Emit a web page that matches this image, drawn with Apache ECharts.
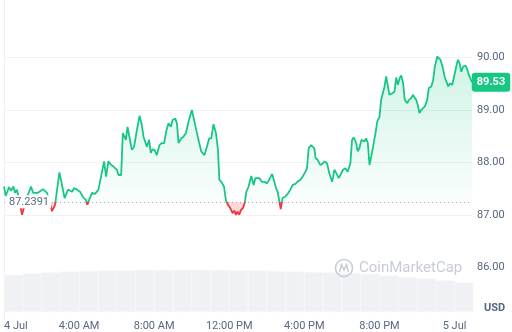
<!DOCTYPE html>
<html><head><meta charset="utf-8">
<script src="https://cdn.jsdelivr.net/npm/echarts@6/dist/echarts.min.js"></script>
<style>html,body{margin:0;padding:0;background:#fff}#c{width:512px;height:332px}</style>
</head><body><div id="c"></div>
<script>
// hours since 4 Jul 00:00
const hours = [
0,0.09,0.27,0.37,0.50,0.59,0.68,0.76,0.96,1.17,1.44,1.55,1.81,2.08,2.29,2.56,2.72,2.95,3.23,3.41,
3.63,3.73,3.89,4.05,4.21,4.37,4.44,4.53,4.69,4.85,5.03,5.17,5.33,5.44,5.56,5.71,5.83,5.92,6.01,6.10,
6.24,6.33,6.42,6.49,6.58,6.68,6.81,6.93,7.08,7.22,7.34,7.43,7.61,7.73,7.82,7.91,8.02,8.14,8.28,8.41,
8.53,8.64,8.76,8.89,8.98,9.12,9.21,9.30,9.44,9.56,9.69,9.83,10.01,10.15,10.28,10.40,10.51,10.68,10.81,10.93,
11.04,11.16,11.29,11.40,11.47,11.57,11.72,11.82,11.93,12.05,12.18,12.27,12.36,12.44,12.53,12.62,12.73,12.82,12.91,13.03,
13.17,13.30,13.39,13.49,13.60,13.74,13.87,14.01,14.13,14.28,14.40,14.49,14.58,14.67,14.74,14.84,14.99,15.13,15.25,15.38,
15.52,15.63,15.79,15.91,16.05,16.14,16.23,16.36,16.46,16.53,16.60,16.71,16.85,16.98,17.08,17.21,17.33,17.48,17.60,17.71,
17.83,17.92,18.06,18.19,18.31,18.45,18.54,18.63,18.76,18.84,18.93,19.04,19.13,19.20,19.29,19.38,19.47,19.56,19.66,19.79,
19.88,20.00,20.09,20.18,20.27,20.36,20.44,20.53,20.68,20.80,20.89,20.98,21.08,21.16,21.26,21.35,21.48,21.56,21.69,21.78,
21.88,21.96,22.04,22.13,22.22,22.31,22.42,22.54,22.63,22.76,22.86,22.95,23.08,23.16,23.25,23.38,23.47,23.57,23.66,23.75,
23.88,23.96,24.09,24.18,24.27,24.36,24.46,24.59,24.68,24.76,24.85,24.93
];
const prices = [
87.54,87.36,87.53,87.46,87.54,87.42,87.48,87.38,87.00,87.28,87.54,87.42,87.42,87.49,87.42,87.07,87.19,87.81,87.32,87.48,
87.44,87.51,87.48,87.44,87.34,87.28,87.19,87.28,87.42,87.40,87.48,87.73,88.02,87.73,88.02,87.95,87.92,87.95,87.86,87.76,
87.76,88.56,88.59,88.43,88.68,88.49,88.24,88.30,88.62,88.89,88.72,88.49,88.30,88.43,88.18,88.25,88.24,88.14,88.33,88.37,
88.37,88.59,88.75,88.68,88.81,88.84,88.75,88.37,88.46,88.49,88.56,88.78,89.00,88.77,88.56,88.37,88.21,88.14,88.30,88.46,
88.46,88.73,88.56,88.24,87.67,87.63,87.54,87.28,87.19,87.13,87.03,87.08,87.00,87.06,87.00,87.09,87.13,87.22,87.44,87.54,
87.74,87.57,87.70,87.67,87.70,87.63,87.63,87.60,87.67,87.78,87.63,87.51,87.44,87.25,87.11,87.32,87.35,87.41,87.48,87.57,
87.59,87.63,87.67,87.73,87.82,87.89,88.27,88.33,88.35,88.27,88.08,88.05,87.95,87.98,88.02,87.98,87.79,87.63,87.86,87.79,
87.70,87.76,87.86,87.89,87.82,87.98,88.43,88.48,88.37,88.21,88.27,88.43,88.46,88.40,88.46,88.37,87.95,88.11,88.30,88.56,
88.78,88.87,89.19,89.32,89.45,89.64,89.48,89.29,89.32,89.35,89.62,89.48,89.61,89.66,89.51,89.19,89.13,89.19,89.23,89.29,
89.29,89.19,89.10,88.94,89.00,89.03,89.07,89.19,89.42,89.45,89.57,89.83,90.02,90.05,89.96,89.80,89.64,89.54,89.45,89.51,
89.48,89.61,89.83,89.96,89.89,89.73,89.83,89.85,89.77,89.67,89.67,89.53
];
const openPrice = 87.2391;
const lastPrice = 89.53;
const volHours = [0.5,1.5,2.5,3.5,4.5,5.5,6.5,7.5,8.5,9.5,10.5,11.5,12.5,13.5,14.5,15.5,16.5,17.5,18.5,19.5,20.5,21.5,22.5,23.5,24.5];
const volumes = [74,77,79,81,82,83,83.4,84,84,84.4,84,84,83.4,82.6,82,81,80,79,78,76,73,70,67,63,59];
const xTickLabels = {0:'4 Jul',4:'4:00 AM',8:'8:00 AM',12:'12:00 PM',16:'4:00 PM',20:'8:00 PM',24:'5 Jul'};
const yLabelValues = [86,87,88,89,90];

const GREEN = '#16c784', RED = '#ea3943', GRAY = '#58667e', GRID = '#eff2f5';
const FONT = 'Roboto, sans-serif';
const X_MAX = 24.93;

const chart = echarts.init(document.getElementById('c'), null, {renderer: 'canvas'});
const lineData = hours.map((h, i) => [h, prices[i]]);
const volData = volHours.map((h, i) => [h, volumes[i]]);

const option = {
  animation: false,
  grid: [
    {left: 4, right: 40, top: 0, bottom: 12.4},
    {left: 4, right: 40, top: 262, bottom: 20}
  ],
  xAxis: [
    {type: 'value', gridIndex: 0, min: 0, max: X_MAX, interval: 4, show: false},
    {type: 'value', gridIndex: 1, min: 0, max: X_MAX, interval: 4,
      axisLine: {show: false}, axisTick: {show: false}, splitLine: {show: false},
      axisLabel: {color: GRAY, fontFamily: FONT, fontSize: 11, margin: 9, alignMinLabel: 'left',
        formatter: v => xTickLabels[Math.round(v * 100) / 100] || ''}}
  ],
  yAxis: [
    {type: 'value', gridIndex: 0, position: 'right', min: 85, max: 91.1, interval: 1,
      axisLine: {show: true, lineStyle: {color: GRID}}, axisTick: {show: false},
      axisLabel: {color: GRAY, fontFamily: FONT, fontSize: 11, margin: 5,
        formatter: v => yLabelValues.indexOf(v) >= 0 ? v.toFixed(2) : ''},
      splitLine: {show: true, lineStyle: {color: ['rgba(0,0,0,0)','rgba(0,0,0,0)',GRID,GRID,GRID,GRID,'rgba(0,0,0,0)','rgba(0,0,0,0)']}}},
    {type: 'value', gridIndex: 0, position: 'left', min: 85, max: 91.1, interval: 1,
      axisLine: {show: true, lineStyle: {color: GRID}}, axisTick: {show: false},
      axisLabel: {show: false}, splitLine: {show: false}},
    {type: 'value', gridIndex: 1, min: 0, max: 100, show: false}
  ],
  series: [
    {type: 'line', xAxisIndex: 0, yAxisIndex: 0, data: lineData, showSymbol: false, symbol: 'none',
      lineStyle: {width: 1.8, color: GREEN}, z: 5,
      markLine: {silent: true, symbol: 'none', label: {show: false},
        lineStyle: {color: '#a6b0c3', type: [1, 3], width: 1},
        data: [{yAxis: openPrice}]}},
    {type: 'bar', xAxisIndex: 1, yAxisIndex: 2, data: volData, barWidth: 18.75,
      itemStyle: {color: '#eff1f4', borderColor: '#f4f5f7', borderWidth: 0.6}, z: 1}
  ]
};
chart.setOption(option);

const yTop = chart.convertToPixel({yAxisIndex: 0}, 90.1);
const yBase = chart.convertToPixel({yAxisIndex: 0}, openPrice);
const yBot = chart.convertToPixel({yAxisIndex: 0}, 86.95);
const yLast = chart.convertToPixel({yAxisIndex: 0}, lastPrice);
const off = (yBase - yTop) / (yBot - yTop);
const areaGrad = new echarts.graphic.LinearGradient(0, yTop, 0, yBot, [
  {offset: 0, color: 'rgba(22,199,132,0.30)'},
  {offset: off, color: 'rgba(22,199,132,0.03)'},
  {offset: off, color: 'rgba(234,57,67,0.28)'},
  {offset: 1, color: 'rgba(234,57,67,0.28)'}
], true);
const lineGrad = new echarts.graphic.LinearGradient(0, yTop, 0, yBot, [
  {offset: 0, color: GREEN},
  {offset: off, color: GREEN},
  {offset: off, color: RED},
  {offset: 1, color: RED}
], true);

chart.setOption({
  series: [{lineStyle: {color: lineGrad}, areaStyle: {origin: openPrice, color: areaGrad}}],
  graphic: [
    {type: 'text', z: 100, left: 7, top: yBase - 7,
      style: {text: openPrice.toFixed(4), fill: GRAY, font: '11px ' + FONT, backgroundColor: '#fff', padding: [1, 2]}},
    {type: 'text', z: 100, x: 491, y: yLast,
      style: {text: lastPrice.toFixed(2), fill: '#fff', font: 'bold 11px ' + FONT, align: 'center', verticalAlign: 'middle',
        backgroundColor: GREEN, padding: [4, 5], borderRadius: 3}},
    {type: 'text', z: 100, x: 484, y: 308,
      style: {text: 'USD', fill: GRAY, font: 'bold 11px ' + FONT, verticalAlign: 'middle'}},
    {type: 'circle', z: 50, shape: {cx: 344, cy: 268, r: 8.5}, style: {fill: 'none', stroke: '#c8cdd5', lineWidth: 1.6}},
    {type: 'polyline', z: 50, shape: {points: [[339.5, 272], [341.5, 264.5], [344, 270], [346.5, 264.5], [348.5, 272]]},
      style: {fill: 'none', stroke: '#c8cdd5', lineWidth: 1.6}},
    {type: 'text', z: 50, x: 359, y: 268,
      style: {text: 'CoinMarketCap', fill: '#c8cdd5', font: '15px ' + FONT, verticalAlign: 'middle'}}
  ]
});
</script></body></html>
